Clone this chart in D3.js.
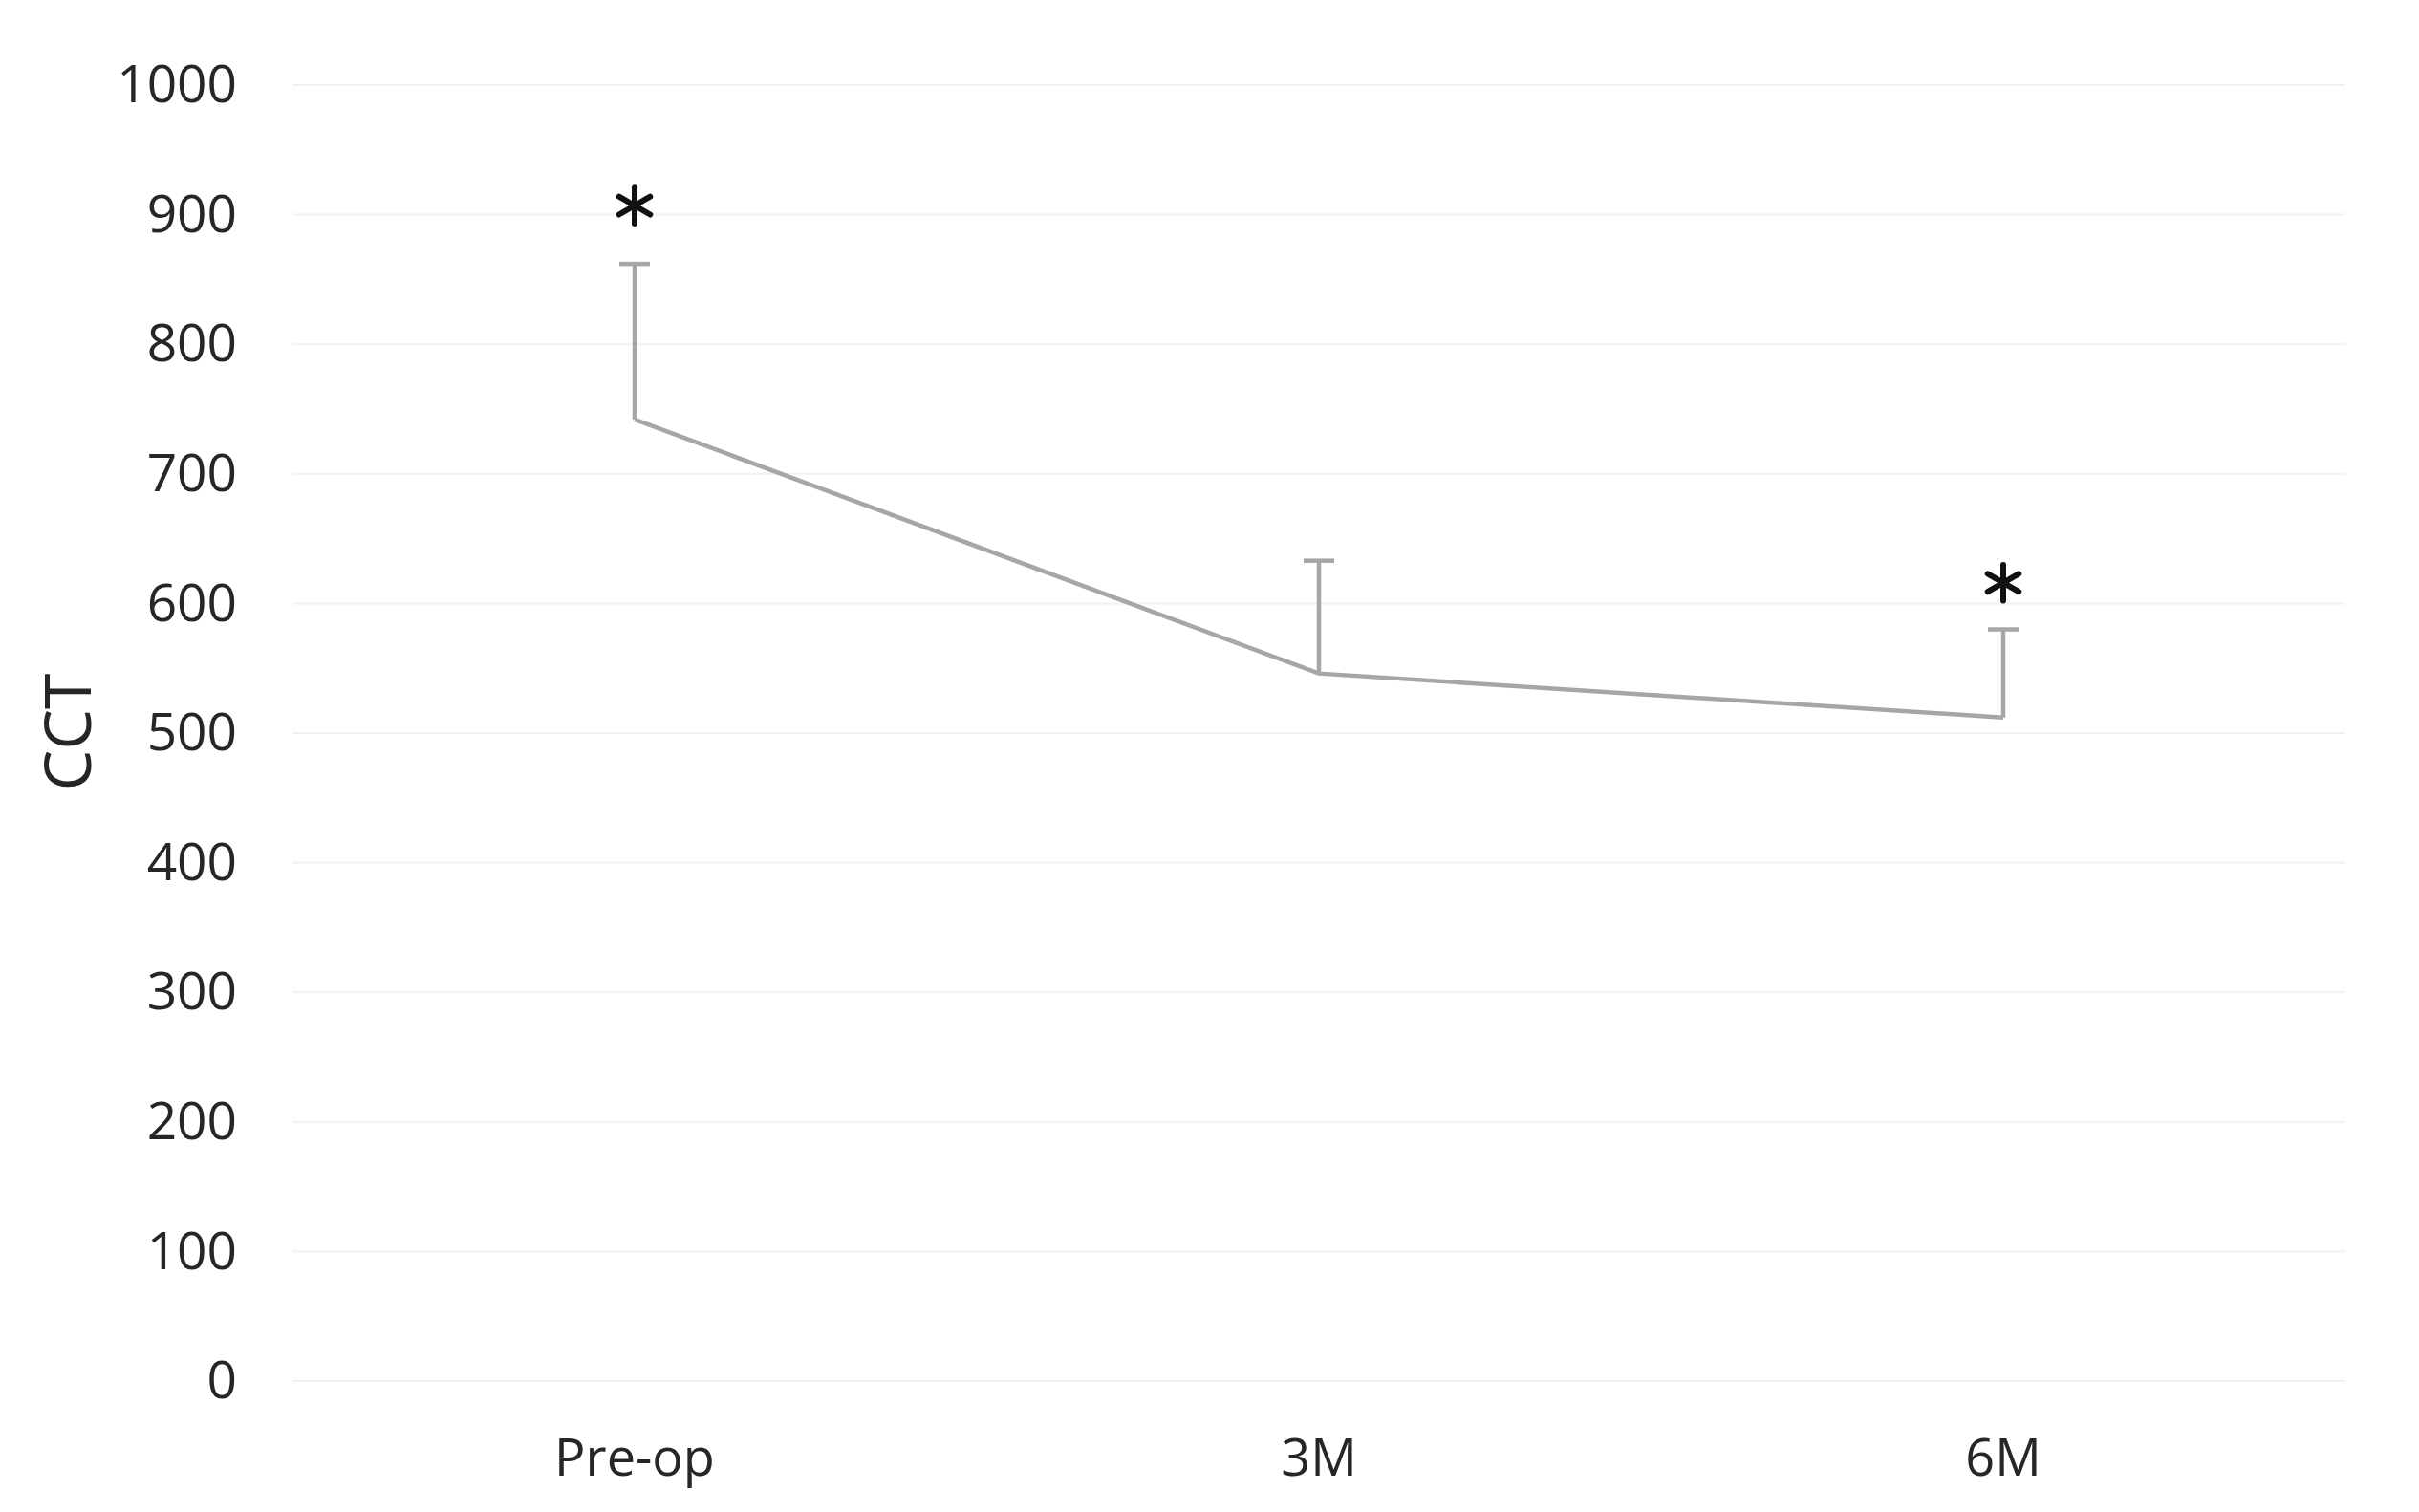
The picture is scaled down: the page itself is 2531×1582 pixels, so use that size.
<!DOCTYPE html>
<html>
<head>
<meta charset="utf-8">
<script src="https://cdn.jsdelivr.net/npm/d3@7"></script>
<style>
  html, body { margin: 0; padding: 0; background: #fff; }
  svg { display: block; }
</style>
</head>
<body>
<script>
const categories = ["Pre-op", "3M", "6M"];
const means = [742, 546, 512];
const errors = [120, 87, 68];
const asteriskAt = [907, null, 616];
const yTicks = [0, 100, 200, 300, 400, 500, 600, 700, 800, 900, 1000];
const yLabel = "CCT";

const W = 2531, H = 1582;
const margin = { left: 306, right: 77, top: 89, bottom: 137 };

const svg = d3.select("body").append("svg").attr("width", W).attr("height", H);

const x = d3.scaleBand().domain(categories).range([margin.left, W - margin.right]).padding(0);
const y = d3.scaleLinear().domain([0, 1000]).range([H - margin.bottom, margin.top]);

const font = "'Open Sans', 'Noto Sans', sans-serif";

// gridlines
svg.append("g").selectAll("line").data(yTicks).join("line")
  .attr("x1", margin.left).attr("x2", W - margin.right)
  .attr("y1", d => y(d)).attr("y2", d => y(d))
  .attr("stroke", "#f2f2f2").attr("stroke-width", 2);

// y axis
const yAxis = d3.axisLeft(y).tickValues(yTicks).tickFormat(d3.format("d")).tickSize(0).tickPadding(58);
const gy = svg.append("g").attr("transform", `translate(${margin.left},0)`).call(yAxis);
gy.select(".domain").remove();
gy.selectAll("text").attr("font-family", font).attr("font-size", 55).attr("fill", "#262626");

// x axis
const xAxis = d3.axisBottom(x).tickSize(0).tickPadding(61);
const gx = svg.append("g").attr("transform", `translate(0,${H - margin.bottom})`).call(xAxis);
gx.select(".domain").remove();
gx.selectAll("text").attr("font-family", font).attr("font-size", 54).attr("fill", "#262626");

// y label
svg.append("text")
  .attr("transform", `translate(95,766) rotate(-90)`)
  .attr("text-anchor", "middle")
  .attr("font-family", font).attr("font-size", 68).attr("fill", "#262626")
  .text(yLabel);

const cx = d => x(d) + x.bandwidth() / 2;
const data = categories.map((c, i) => ({ c, m: means[i], e: errors[i], a: asteriskAt[i] }));

// line
const line = d3.line().x(d => cx(d.c)).y(d => y(d.m));
svg.append("path").datum(data).attr("d", line)
  .attr("fill", "none").attr("stroke", "#a6a6a6").attr("stroke-width", 4.5).attr("stroke-linejoin", "round");

// error bars
const eb = svg.append("g").selectAll("g").data(data).join("g");
eb.append("line")
  .attr("x1", d => cx(d.c)).attr("x2", d => cx(d.c))
  .attr("y1", d => y(d.m)).attr("y2", d => y(d.m + d.e))
  .attr("stroke", "#a6a6a6").attr("stroke-width", 4.5);
eb.append("line")
  .attr("x1", d => cx(d.c) - 16).attr("x2", d => cx(d.c) + 16)
  .attr("y1", d => y(d.m + d.e)).attr("y2", d => y(d.m + d.e))
  .attr("stroke", "#a6a6a6").attr("stroke-width", 4.5);

// asterisks (six-armed)
const star = d3.symbol().type(d3.symbolAsterisk).size(1000);
svg.append("g").selectAll("path").data(data.filter(d => d.a != null)).join("path")
  .attr("transform", d => `translate(${cx(d.c)},${y(d.a)})`)
  .attr("d", star)
  .attr("fill", "none").attr("stroke", "#111").attr("stroke-width", 6).attr("stroke-linecap", "round");
</script>
</body>
</html>
